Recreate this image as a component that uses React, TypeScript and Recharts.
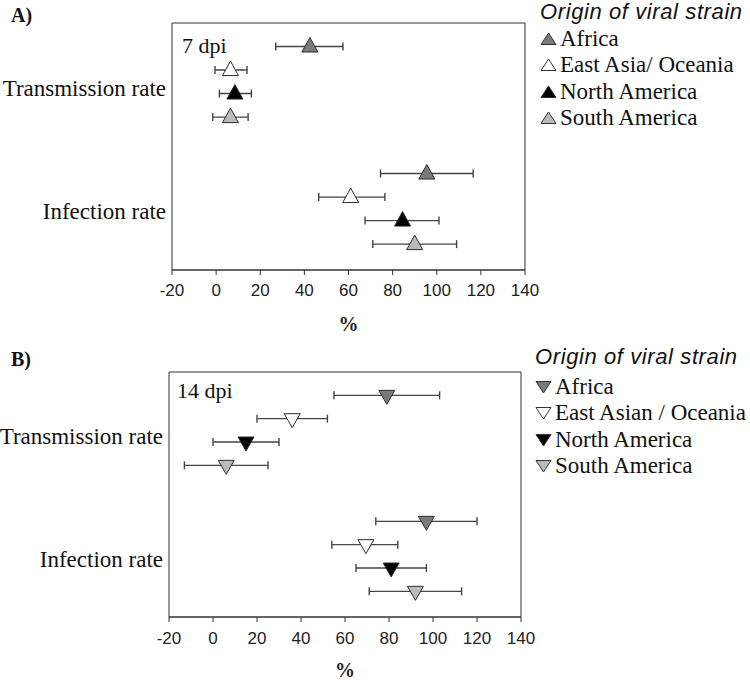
import React from 'react'
import {
  ScatterChart,
  Scatter,
  XAxis,
  YAxis,
  ErrorBar,
  ReferenceArea,
  Legend,
} from 'recharts'

const SERIF = '"Liberation Serif", "Times New Roman", serif'
const SANS = '"Liberation Sans", Arial, sans-serif'

const categories = ['Transmission rate', 'Infection rate']
const xTicks = [-20, 0, 20, 40, 60, 80, 100, 120, 140]

const strainsA = ['Africa', 'East Asia/ Oceania', 'North America', 'South America']
const strainsB = ['Africa', 'East Asian / Oceania', 'North America', 'South America']
const strainFills = ['#7a7a7a', '#ffffff', '#000000', '#bababa']

// 7 dpi: [transmission, infection] for each strain
const meanA = [[42.5, 95.5], [6.5, 61], [8.5, 84.5], [6.5, 90]]
const lowA = [[27, 74.5], [-0.5, 46.5], [1.5, 67.5], [-1.5, 71]]
const highA = [[57.5, 116.5], [14, 76.5], [16, 101], [14.5, 109]]

// 14 dpi
const meanB = [[79, 97], [36, 69.5], [15, 81], [6, 92]]
const lowB = [[55, 74], [20, 54], [0, 65], [-13, 71]]
const highB = [[103, 120], [52, 84], [30, 97], [25, 113]]

const ROW_MAX = 10.5
const CAT_GAP = 5.4
const catTicks = [2.75, 8.0]

function buildRows(mean: number[][], low: number[][], high: number[][], s: number) {
  return categories.map((_, c) => ({
    x: mean[s][c],
    y: c * CAT_GAP + s + 1,
    err: [mean[s][c] - low[s][c], high[s][c] - mean[s][c]],
  }))
}

function triPoints(cx: number, cy: number, down: boolean, hw: number, tip: number, base: number) {
  if (down) return `${cx - hw},${cy - base} ${cx + hw},${cy - base} ${cx},${cy + tip}`
  return `${cx - hw},${cy + base} ${cx + hw},${cy + base} ${cx},${cy - tip}`
}

const Tri = ({ cx, cy, fill, down }: any) => (
  <polygon
    points={triPoints(cx, cy, down, 8, 9, down ? 5 : 5.5)}
    fill={fill}
    stroke="#2e2e2e"
    strokeWidth={1}
  />
)

const StrainLegend = ({ names, down, gap }: any) => (
  <div style={{ fontFamily: SERIF, color: '#111', width: 215 }}>
    <div
      style={{
        fontFamily: SANS,
        fontStyle: 'italic',
        fontSize: 22,
        letterSpacing: 0.6,
        lineHeight: '20px',
        whiteSpace: 'nowrap',
      }}
    >
      Origin of viral strain
    </div>
    <div style={{ marginTop: gap }}>
      {names.map((n: string, i: number) => (
        <div key={n} style={{ display: 'flex', alignItems: 'center', height: 26.3, whiteSpace: 'nowrap' }}>
          <svg width={17} height={14} style={{ flex: 'none' }}>
            <polygon
              points={down ? '1,1.5 16,1.5 8.5,13' : '1,12.5 16,12.5 8.5,1'}
              fill={strainFills[i]}
              stroke="#333"
              strokeWidth={1}
            />
          </svg>
          <span style={{ fontSize: 23, lineHeight: '26px', marginLeft: 3 }}>{n}</span>
        </div>
      ))}
    </div>
  </div>
)

function Panel({ height, top, right, yWidth, xHeight, tickMargin, pctOffset, mean, low, high, names, down, legendPos, legendGap }: any) {
  return (
    <ScatterChart width={750} height={height} margin={{ top, right, bottom: 0, left: 0 }}>
      <ReferenceArea
        x1={-20}
        x2={140}
        y1={0}
        y2={ROW_MAX}
        fill="none"
        stroke="#333"
        strokeWidth={1}
        ifOverflow="visible"
      />
      <XAxis
        type="number"
        dataKey="x"
        domain={[-20, 140]}
        ticks={xTicks}
        allowDataOverflow
        height={xHeight}
        tickSize={5}
        tickMargin={tickMargin}
        stroke="#333"
        tick={{ fill: '#222', fontSize: 17, fontFamily: SANS }}
        label={{
          value: '%',
          position: 'insideBottom',
          offset: pctOffset,
          style: { fill: '#222', fontSize: 20, fontFamily: SERIF, fontWeight: 'bold' },
        }}
      />
      <YAxis
        type="number"
        dataKey="y"
        domain={[0, ROW_MAX]}
        reversed
        ticks={catTicks}
        tickFormatter={(v: number) => categories[catTicks.indexOf(v)] ?? ''}
        width={yWidth}
        axisLine={false}
        tickLine={false}
        tickSize={0}
        tickMargin={6}
        tick={{ fill: '#111', fontSize: 23, fontFamily: SERIF }}
      />
      <Legend
        layout="vertical"
        align="center"
        verticalAlign="middle"
        wrapperStyle={{ left: legendPos[0], top: legendPos[1], width: 215 }}
        content={() => <StrainLegend names={names} down={down} gap={legendGap} />}
      />
      {names.map((n: string, s: number) => (
        <Scatter
          key={n}
          name={n}
          data={buildRows(mean, low, high, s)}
          fill={strainFills[s]}
          isAnimationActive={false}
          shape={(p: any) => <Tri cx={p.cx} cy={p.cy} fill={strainFills[s]} down={down} />}
        >
          <ErrorBar dataKey="err" direction="x" width={4} stroke="#444" strokeWidth={1.4} />
        </Scatter>
      ))}
    </ScatterChart>
  )
}

const tag = (txt: string, left: number, top: number, bold: boolean, size: number) => (
  <div
    style={{
      position: 'absolute',
      left,
      top,
      fontFamily: SERIF,
      fontSize: size,
      lineHeight: 1,
      fontWeight: bold ? 'bold' : 'normal',
      color: '#111',
      whiteSpace: 'nowrap',
    }}
  >
    {txt}
  </div>
)

export default function App() {
  return (
    <div style={{ position: 'absolute', left: 0, top: 0, width: 750, height: 681, background: '#fff' }}>
      <div style={{ position: 'absolute', left: 0, top: 0 }}>
        <Panel
          height={340}
          top={23}
          right={225}
          yWidth={172}
          xHeight={70}
          tickMargin={9}
          pctOffset={9}
          mean={meanA}
          low={lowA}
          high={highA}
          names={strainsA}
          down={false}
          legendPos={[540, 2]}
          legendGap={4}
        />
      </div>
      <div style={{ position: 'absolute', left: 0, top: 340 }}>
        <Panel
          height={341}
          top={32}
          right={229}
          yWidth={169}
          xHeight={64}
          tickMargin={10}
          pctOffset={4}
          mean={meanB}
          low={lowB}
          high={highB}
          names={strainsB}
          down={true}
          legendPos={[535, 7]}
          legendGap={7}
        />
      </div>
      {tag('A)', 11, 5, true, 20)}
      {tag('7 dpi', 182, 35, false, 22)}
      {tag('B)', 11, 349, true, 20)}
      {tag('14 dpi', 177, 380, false, 22)}
    </div>
  )
}
